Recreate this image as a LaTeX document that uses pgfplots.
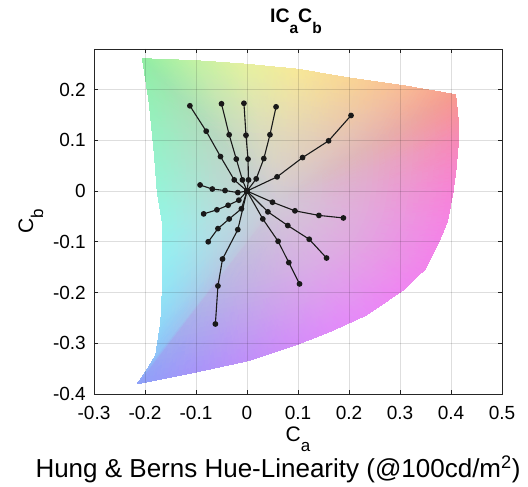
\documentclass[border=0pt]{standalone}
\usepackage{pgfplots}
\pgfplotsset{compat=1.18}
\usepackage{fontspec}
\setmainfont{Liberation Sans}
\newcommand\fs[1]{\fontsize{#1}{#1}\selectfont}
\begin{document}
\begin{tikzpicture}
\begin{axis}[
 scale only axis, width=408pt, height=345pt,
 xmin=-0.3, xmax=0.5, ymin=-0.4, ymax=0.28,
 xtick={-0.3,-0.2,-0.1,0,0.1,0.2,0.3,0.4,0.5},
 ytick={-0.4,-0.3,-0.2,-0.1,0,0.1,0.2},
 /pgf/number format/assume math mode=true,
 ticklabel style={font=\fs{19}},
 xticklabel style={anchor=base, yshift=-26pt, inner sep=0pt},
 yticklabel style={anchor=east, xshift=-8pt, inner sep=0pt},
 tick align=inside, major tick length=4pt,
 tick style={black!85, line width=0.6pt},
 axis line style={black!85, line width=0.8pt},
 every axis x label/.style={at={(axis description cs:0.5,-0.1391)}, anchor=base, font=\fs{21}},
 every axis y label/.style={at={(axis description cs:-0.1495,0.5)}, rotate=90, anchor=base, font=\fs{21}},
 every axis title/.style={at={(axis description cs:0.495,1.078)}, anchor=base, font=\fs{19.5}\bfseries},
 xlabel={C\raisebox{-10pt}{\fs{17}a}},
 ylabel={C\raisebox{-10pt}{\fs{17}b}},
 title={IC\raisebox{-11pt}{\fs{15.5}a}C\raisebox{-11pt}{\fs{15.5}b}},
 dl/.style={black!90, line width=1.1pt, mark=*, mark size=2.3pt, mark options={solid, fill=black!90}},
]
\addplot[surf, shader=interp, mesh/color input=explicit, mesh/cols=31] table[meta=c] {
x y c
0.06 -0.02 rgb=0.82,0.79,0.835
0.06 -0.02 rgb=0.82,0.79,0.835
0.06 -0.02 rgb=0.82,0.79,0.835
0.06 -0.02 rgb=0.82,0.79,0.835
0.06 -0.02 rgb=0.82,0.79,0.835
0.06 -0.02 rgb=0.82,0.79,0.835
0.06 -0.02 rgb=0.82,0.79,0.835
0.06 -0.02 rgb=0.82,0.79,0.835
0.06 -0.02 rgb=0.82,0.79,0.835
0.06 -0.02 rgb=0.82,0.79,0.835
0.06 -0.02 rgb=0.82,0.79,0.835
0.06 -0.02 rgb=0.82,0.79,0.835
0.06 -0.02 rgb=0.82,0.79,0.835
0.06 -0.02 rgb=0.82,0.79,0.835
0.06 -0.02 rgb=0.82,0.79,0.835
0.06 -0.02 rgb=0.82,0.79,0.835
0.06 -0.02 rgb=0.82,0.79,0.835
0.06 -0.02 rgb=0.82,0.79,0.835
0.06 -0.02 rgb=0.82,0.79,0.835
0.06 -0.02 rgb=0.82,0.79,0.835
0.06 -0.02 rgb=0.82,0.79,0.835
0.06 -0.02 rgb=0.82,0.79,0.835
0.06 -0.02 rgb=0.82,0.79,0.835
0.06 -0.02 rgb=0.82,0.79,0.835
0.06 -0.02 rgb=0.82,0.79,0.835
0.06 -0.02 rgb=0.82,0.79,0.835
0.06 -0.02 rgb=0.82,0.79,0.835
0.06 -0.02 rgb=0.82,0.79,0.835
0.06 -0.02 rgb=0.82,0.79,0.835
0.06 -0.02 rgb=0.82,0.79,0.835
0.06 -0.02 rgb=0.82,0.79,0.835
-0.0725 0.1205 rgb=0.705,0.855,0.747
-0.02 0.1185 rgb=0.793,0.861,0.747
0.03 0.115 rgb=0.858,0.861,0.741
0.08 0.11 rgb=0.888,0.844,0.727
0.13 0.1015 rgb=0.891,0.810,0.720
0.1825 0.094 rgb=0.891,0.767,0.720
0.2345 0.085 rgb=0.888,0.706,0.707
0.237 0.0615 rgb=0.888,0.689,0.741
0.2375 0.04 rgb=0.888,0.675,0.781
0.235 0.012 rgb=0.888,0.669,0.815
0.232 -0.011 rgb=0.888,0.666,0.839
0.2265 -0.04 rgb=0.885,0.666,0.859
0.218 -0.0605 rgb=0.881,0.666,0.869
0.205 -0.0865 rgb=0.878,0.666,0.876
0.1825 -0.108 rgb=0.874,0.669,0.886
0.1465 -0.1325 rgb=0.861,0.675,0.896
0.1135 -0.1475 rgb=0.847,0.679,0.9
0.081 -0.1605 rgb=0.827,0.682,0.9
0.032 -0.177 rgb=0.79,0.686,0.9
-0.0205 -0.1885 rgb=0.746,0.696,0.9
-0.0775 -0.2 rgb=0.699,0.716,0.9
-0.0695 -0.1885 rgb=0.699,0.743,0.9
-0.0595 -0.172 rgb=0.699,0.777,0.9
-0.0545 -0.139 rgb=0.702,0.814,0.896
-0.053 -0.1065 rgb=0.705,0.841,0.893
-0.0525 -0.0735 rgb=0.712,0.858,0.886
-0.053 -0.0405 rgb=0.716,0.864,0.866
-0.058 -0.011 rgb=0.716,0.864,0.842
-0.061 0.0285 rgb=0.716,0.861,0.815
-0.066 0.078 rgb=0.712,0.858,0.781
-0.0725 0.1205 rgb=0.705,0.855,0.747
-0.205 0.261 rgb=0.565,0.933,0.64
-0.10 0.257 rgb=0.76,0.948,0.64
0.0 0.250 rgb=0.903,0.948,0.625
0.10 0.240 rgb=0.97,0.91,0.595
0.20 0.223 rgb=0.978,0.835,0.58
0.305 0.208 rgb=0.978,0.738,0.58
0.409 0.190 rgb=0.97,0.603,0.55
0.414 0.143 rgb=0.97,0.565,0.625
0.415 0.100 rgb=0.97,0.535,0.715
0.410 0.044 rgb=0.97,0.52,0.79
0.404 -0.002 rgb=0.97,0.513,0.843
0.393 -0.060 rgb=0.963,0.513,0.888
0.376 -0.101 rgb=0.955,0.513,0.91
0.350 -0.153 rgb=0.948,0.513,0.925
0.305 -0.196 rgb=0.94,0.52,0.948
0.233 -0.245 rgb=0.91,0.535,0.97
0.167 -0.275 rgb=0.88,0.543,0.978
0.102 -0.301 rgb=0.835,0.55,0.978
0.004 -0.334 rgb=0.753,0.558,0.978
-0.101 -0.357 rgb=0.655,0.58,0.978
-0.215 -0.380 rgb=0.55,0.625,0.978
-0.199 -0.357 rgb=0.55,0.685,0.978
-0.179 -0.324 rgb=0.55,0.76,0.978
-0.169 -0.258 rgb=0.558,0.843,0.97
-0.166 -0.193 rgb=0.565,0.903,0.963
-0.165 -0.127 rgb=0.58,0.94,0.948
-0.166 -0.061 rgb=0.588,0.955,0.903
-0.176 -0.002 rgb=0.588,0.955,0.85
-0.182 0.077 rgb=0.588,0.948,0.79
-0.192 0.176 rgb=0.58,0.94,0.715
-0.205 0.261 rgb=0.565,0.933,0.64
};
\pgfplotsinvokeforeach{-0.2,-0.1,0,0.1,0.2,0.3,0.4}{\draw[black, opacity=0.13, line width=0.6pt] (axis cs:#1,-0.4) -- (axis cs:#1,0.28);}
\pgfplotsinvokeforeach{-0.3,-0.2,-0.1,0,0.1,0.2}{\draw[black, opacity=0.13, line width=0.6pt] (axis cs:-0.3,#1) -- (axis cs:0.5,#1);}
\addplot[dl] coordinates {(0,0) (-0.025,0.022) (-0.052,0.068) (-0.080,0.118) (-0.112,0.168)};
\addplot[dl] coordinates {(0,0) (-0.009,0.022) (-0.021,0.063) (-0.035,0.111) (-0.050,0.172)};
\addplot[dl] coordinates {(0,0) (0.003,0.022) (0.002,0.063) (-0.002,0.110) (-0.006,0.173)};
\addplot[dl] coordinates {(0,0) (0.018,0.024) (0.033,0.064) (0.045,0.111) (0.057,0.166)};
\addplot[dl] coordinates {(0,0) (0.059,0.028) (0.109,0.066) (0.160,0.099) (0.204,0.149)};
\addplot[dl] coordinates {(0,0) (-0.018,-0.003) (-0.043,0.001) (-0.068,0.004) (-0.092,0.012)};
\addplot[dl] coordinates {(0,0) (0.050,-0.022) (0.094,-0.039) (0.141,-0.048) (0.189,-0.053)};
\addplot[dl] coordinates {(0,0) (0.041,-0.041) (0.080,-0.068) (0.122,-0.095) (0.156,-0.132)};
\addplot[dl] coordinates {(0,0) (0.031,-0.055) (0.061,-0.099) (0.082,-0.141) (0.103,-0.183)};
\addplot[dl] coordinates {(0,0) (-0.016,-0.018) (-0.037,-0.028) (-0.059,-0.037) (-0.085,-0.045)};
\addplot[dl] coordinates {(0,0) (-0.011,-0.035) (-0.035,-0.055) (-0.057,-0.074) (-0.076,-0.100)};
\addplot[dl] coordinates {(0,0) (-0.018,-0.076) (-0.048,-0.134) (-0.057,-0.187) (-0.062,-0.262)};
\end{axis}
\node[anchor=base, font=\fs{26}] at ([xshift=-20pt,yshift=-84pt]current axis.south) {Hung \& Berns Hue-Linearity (@100cd/m\textsuperscript{2})};
\path ([xshift=-94pt,yshift=-92pt]current axis.south west) rectangle ([xshift=26pt,yshift=49pt]current axis.north east);
\end{tikzpicture}
\end{document}
